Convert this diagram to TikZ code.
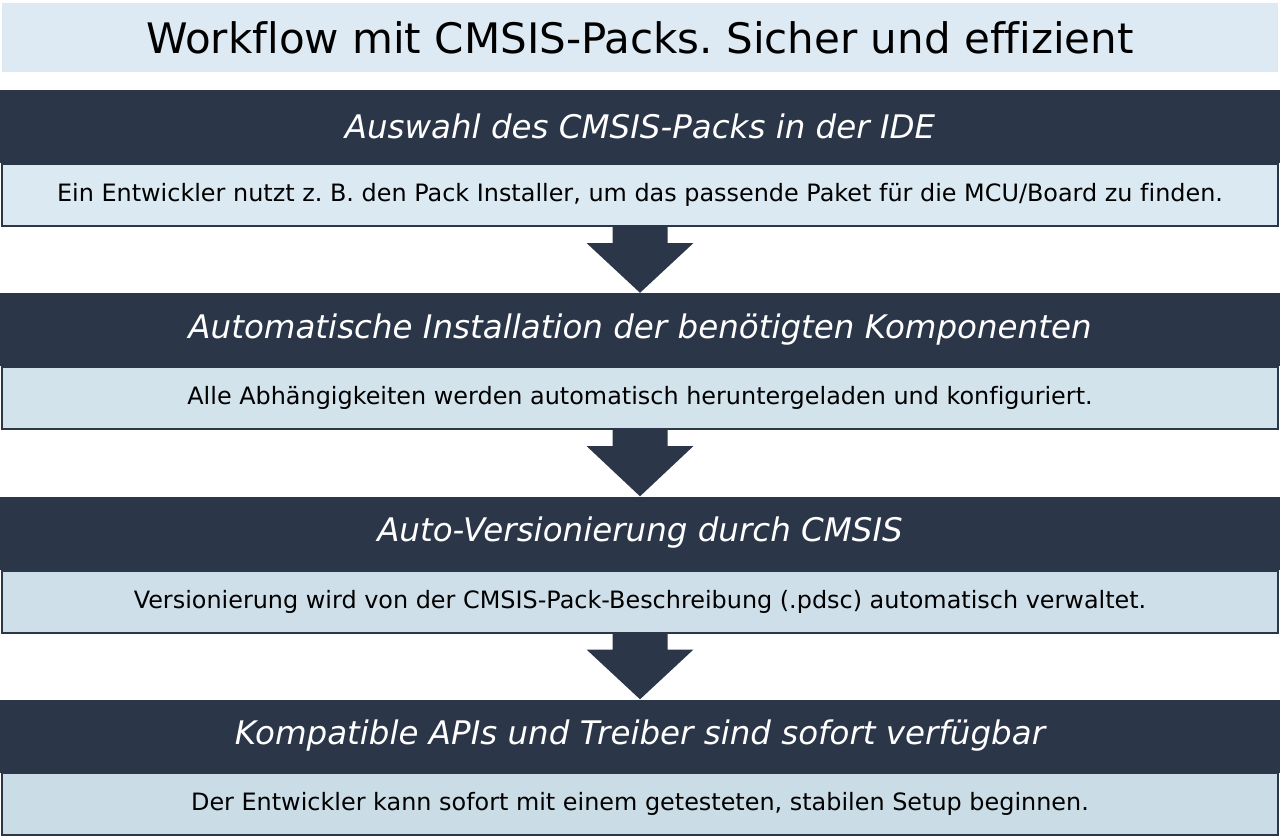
\documentclass[tikz,border=0pt]{standalone}
\usepackage{fontspec}
\setmainfont[Ligatures=NoCommon]{DejaVu Sans}
\usetikzlibrary{calc}
\definecolor{navy}{HTML}{2B3649}
\definecolor{titlebg}{HTML}{DDEAF3}
\definecolor{bodyA}{HTML}{DBE9F3}
\definecolor{bodyB}{HTML}{D2E3EC}
\definecolor{bodyC}{HTML}{CEDFE9}
\definecolor{bodyD}{HTML}{CADCE6}
\frenchspacing
\begin{document}
\begin{tikzpicture}[x=1pt,y=-1pt,
  titlebox/.style={fill=titlebg, minimum width=1276pt, minimum height=69pt, inner sep=0pt, font=\fontsize{42}{50}\selectfont},
  stephead/.style={fill=navy, text=white, minimum width=1280pt, minimum height=73pt, inner sep=0pt, font=\fontsize{32.5}{39}\selectfont\itshape},
  stepbody/.style={fill=#1, draw=navy, line width=2pt, minimum width=1276pt, minimum height=62pt, inner sep=0pt, font=\fontsize{23.9}{28}\selectfont}]
  \useasboundingbox (0,0) rectangle (1280,838);

  \node[titlebox] (title) at (640,37.5) {Workflow mit CMSIS-Packs. Sicher und effizient};

  \node[stephead] (h1) at (640,126.5) {Auswahl des CMSIS-Packs in der IDE};
  \node[stepbody=bodyA] (d1) at (640,195) {Ein Entwickler nutzt z. B. den Pack Installer, um das passende Paket für die MCU/Board zu finden.};

  \node[stephead] (h2) at (640,329.5) {Automatische Installation der benötigten Komponenten};
  \node[stepbody=bodyB] (d2) at (640,398) {Alle Abhängigkeiten werden automatisch heruntergeladen und konfiguriert.};

  \node[stephead] (h3) at (640,533) {Auto-Versionierung durch CMSIS};
  \node[stepbody=bodyC] (d3) at (640,601.5) {Versionierung wird von der CMSIS-Pack-Beschreibung (.pdsc) automatisch verwaltet.};

  \node[stephead] (h4) at (640,736) {Kompatible APIs und Treiber sind sofort verfügbar};
  \node[stepbody=bodyD] (d4) at (640,804) {Der Entwickler kann sofort mit einem getesteten, stabilen Setup beginnen.};

  % block arrows between the steps
  \foreach \a/\b in {d1/h2,d2/h3,d3/h4} {
    \fill[navy] ($(\a.south)+(-27.5,-1)$) -- ++(0,17) -- ++(-26,0) -- (\b.north)
      -- ($(\a.south)+(53.5,16)$) -- ++(-26,0) -- ++(0,-17) -- cycle;
  }
\end{tikzpicture}
\end{document}
